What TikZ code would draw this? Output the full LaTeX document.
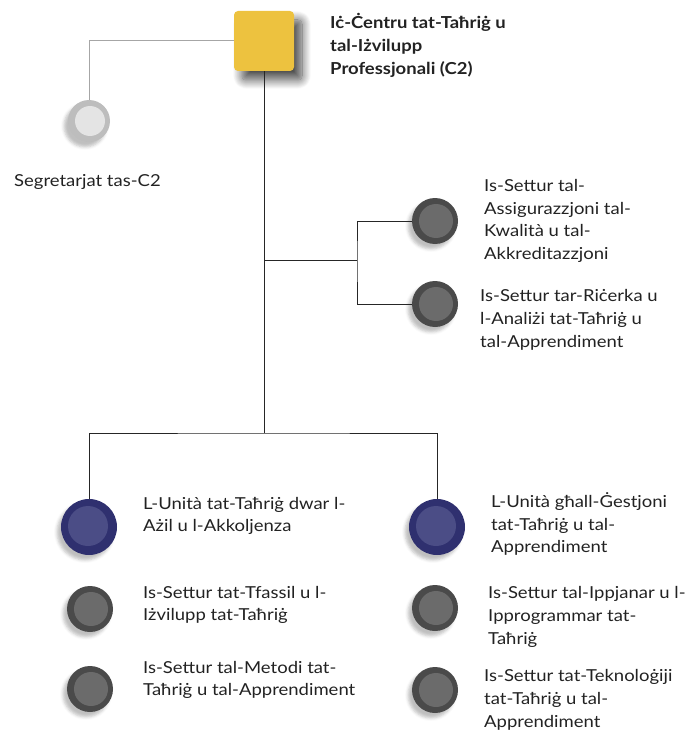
\documentclass[tikz,border=0pt]{standalone}
\usepackage{fontspec}
\setmainfont{Lato}[FakeStretch=1.12]
\usetikzlibrary{shadows.blur}

\definecolor{centreyellow}{HTML}{EDC23F}
\definecolor{unitblue}{HTML}{2F306F}
\definecolor{unitbluein}{HTML}{4B4D86}
\definecolor{sectgray}{HTML}{4A4A4A}
\definecolor{sectgrayin}{HTML}{6B6B6B}
\definecolor{secgray}{HTML}{BDBDBD}
\definecolor{secgrayin}{HTML}{E4E4E4}
\definecolor{txt}{HTML}{222222}

\begin{document}
\begin{tikzpicture}[x=1pt,y=-1pt]
	\tikzset{
		lbl/.style={anchor=west, align=left, text=txt, inner sep=0pt, font=\fontsize{16.5}{22.8}\selectfont},
		disc/.style={circle, draw=none, inner sep=0pt, blur shadow={shadow xshift=-4pt, shadow yshift=-5pt, shadow opacity=25, shadow blur radius=3pt}},
		unitdisc/.style={disc, minimum size=56pt, fill=unitblue,
			path picture={\fill[unitbluein] ([xshift=-1pt,yshift=1pt]path picture bounding box.center) circle (20pt);}},
		sectdisc/.style={disc, minimum size=46pt, fill=sectgray,
			path picture={\fill[sectgrayin] ([xshift=1pt]path picture bounding box.center) circle (17pt);}},
		secdisc/.style={disc, minimum size=42pt, fill=secgray,
			path picture={\fill[secgrayin] ([xshift=1pt]path picture bounding box.center) circle (15pt);}},
		link/.style={draw=black!85, line width=0.8pt}
	}
	\useasboundingbox (0,0) rectangle (686,738);

	% head of the centre
	\node (centre) at (264,41) [rectangle, rounded corners=4pt, minimum size=60pt, fill=centreyellow, draw=none,
		blur shadow={shadow xshift=8pt, shadow yshift=-9pt, shadow opacity=70, shadow blur radius=9pt, shadow blur steps=14}] {};
	\node (title) at (330,45) [lbl, font=\bfseries\fontsize{16.5}{23}\selectfont] {Iċ-Ċentru tat-Taħriġ u\\tal-Iżvilupp\\Professjonali (C2)};

	% secretariat
	\node (sec) at (89,121) [secdisc] {};
	\node (seclbl) at (14,182) [lbl] {Segretarjat tas-C2};

	% sectors under the head
	\node (qa) at (435,221) [sectdisc] {};
	\node (qalbl) at (484,221) [lbl] {Is-Settur tal-\\Assigurazzjoni tal-\\Kwalità u tal-\\Akkreditazzjoni};
	\node (research) at (435,304) [sectdisc] {};
	\node (researchlbl) at (480,320) [lbl] {Is-Settur tar-Riċerka u\\l-Analiżi tat-Taħriġ u\\tal-Apprendiment};

	% units
	\node (asyl) at (89,527) [unitdisc] {};
	\node (asyllbl) at (143,516) [lbl] {L-Unità tat-Taħriġ dwar l-\\Ażil u l-Akkoljenza};
	\node (tfassil) at (90,609) [sectdisc] {};
	\node (tfassillbl) at (143,605) [lbl] {Is-Settur tat-Tfassil u l-\\Iżvilupp tat-Taħriġ};
	\node (metodi) at (90,689) [sectdisc] {};
	\node (metodilbl) at (143,680) [lbl] {Is-Settur tal-Metodi tat-\\Taħriġ u tal-Apprendiment};

	\node (mgmt) at (437,527) [unitdisc] {};
	\node (mgmtlbl) at (491,524) [lbl] {L-Unità għall-Ġestjoni\\tat-Taħriġ u tal-\\Apprendiment};
	\node (ippjanar) at (435,608) [sectdisc] {};
	\node (ippjanarlbl) at (488,617) [lbl] {Is-Settur tal-Ippjanar u l-\\Ipprogrammar tat-\\Taħriġ};
	\node (tekno) at (435,690) [sectdisc] {};
	\node (teknolbl) at (484,700) [lbl] {Is-Settur tat-Teknoloġiji\\tat-Taħriġ u tal-\\Apprendiment};

	\coordinate (split) at (357,260);
	\coordinate (trunk) at (264,433);

	\draw[draw=black!35, line width=1pt] (centre.west) -| (sec.north);
	\draw[link] (centre.south) -- (trunk);
	\draw[link] (centre.south |- split) -- (split);
	\draw[link] (qa.west) -| (split) |- (research.west);
	\draw[link] (asyl.north) |- (trunk) -| (mgmt.north);
\end{tikzpicture}
\end{document}
